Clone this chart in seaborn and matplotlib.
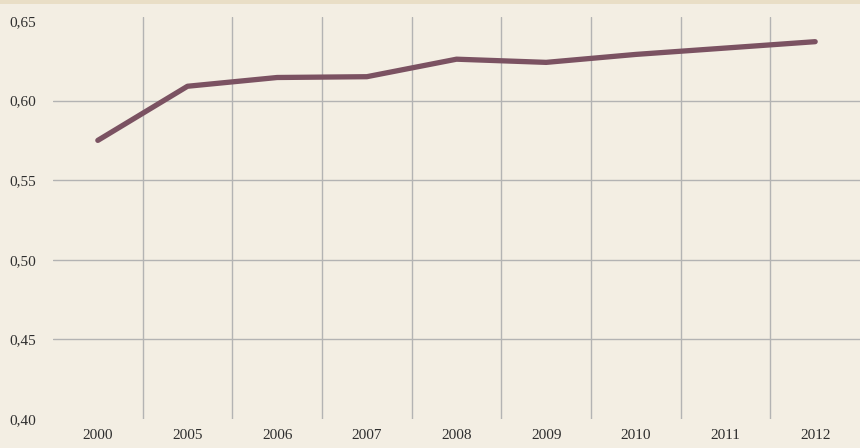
import matplotlib
matplotlib.use("Agg")
import matplotlib.pyplot as plt
import seaborn as sns
import pandas as pd
from matplotlib.patches import Rectangle

years = ["2000", "2005", "2006", "2007", "2008", "2009", "2010", "2011", "2012"]
values = [0.575, 0.609, 0.6145, 0.615, 0.626, 0.624, 0.629, 0.633, 0.637]
yticks = [0.40, 0.45, 0.50, 0.55, 0.60, 0.65]
ytick_labels = ["0,40", "0,45", "0,50", "0,55", "0,60", "0,65"]

bg = "#f3eee3"
sns.set_theme(style="white")
plt.rcParams['font.family'] = ['Liberation Serif', 'DejaVu Serif']

df = pd.DataFrame({"pos": range(len(years)), "value": values})

fig = plt.figure(figsize=(8.6, 4.48), dpi=100, facecolor=bg)
fig.patches.append(Rectangle((0, 1 - 4/448), 1, 4/448, transform=fig.transFigure,
                             facecolor="#e9dec6", edgecolor="none", zorder=0))
ax = fig.add_axes([53/860, 1 - 419/448, 807/860, 402/448])
ax.set_facecolor(bg)

# gridlines
for y in [0.45, 0.50, 0.55, 0.60]:
    ax.axhline(y, color="#b3b3b3", lw=1.0, zorder=1)
for i in range(len(years) - 1):
    ax.axvline(i + 0.5, color="#b3b3b3", lw=1.0, zorder=1)

sns.lineplot(data=df, x="pos", y="value", ax=ax, color="#7b5262", lw=3.8,
             solid_capstyle="round", zorder=3)

ax.set_xlim(-0.5, len(years) - 0.5)
ax.set_ylim(0.40, 0.6525)
ax.set_xticks(range(len(years)))
ax.set_xticklabels(years)
ax.set_yticks(yticks)
ax.set_yticklabels(ytick_labels)
ax.set_xlabel("")
ax.set_ylabel("")
for s in ax.spines.values():
    s.set_visible(False)
ax.tick_params(axis="both", length=0, labelsize=11, colors="#2e2e2e")
ax.tick_params(axis="x", pad=7)
ax.tick_params(axis="y", pad=12)
for lab in ax.get_xticklabels() + ax.get_yticklabels():
    lab.set_fontstretch("condensed")

fig.savefig("out.png", dpi=100, facecolor=bg)
